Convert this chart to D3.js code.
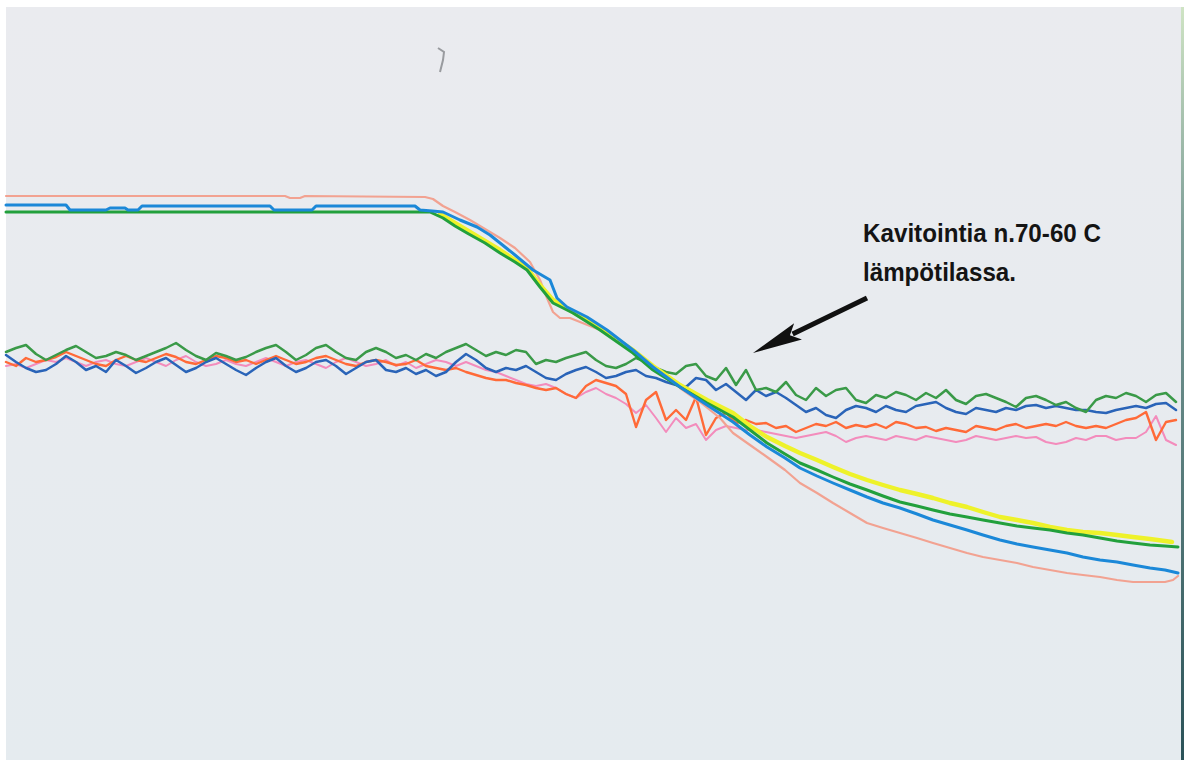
<!DOCTYPE html>
<html>
<head>
<meta charset="utf-8">
<script src="https://cdn.jsdelivr.net/npm/d3@7"></script>
<style>
  html, body { margin: 0; padding: 0; background: #ffffff; }
  svg { display: block; }
</style>
</head>
<body>
<svg id="chart" width="1189" height="760"></svg>
<script>
// ---------- DATA (time units, signal units) ----------
// Temperature curves: [time, value]
const salmonTemp = [[0,564],[279,564],[284,562],[294,562],[299,564],[419,563],[427,561],[437,554],[449,548],[464,540],[474,534],[484,528],[494,522],[509,512],[524,498],[534,480],[541,462],[547,448],[554,442],[564,442],[574,438],[594,430],[614,418],[634,402],[654,388],[674,372],[694,358],[714,342],[727,327],[744,315],[761,303],[779,290],[794,277],[811,267],[827,257],[844,247],[861,237],[877,232],[894,227],[911,222],[927,217],[944,212],[961,207],[977,203],[994,200],[1011,197],[1027,193],[1044,190],[1061,187],[1077,185],[1094,183],[1111,180],[1127,178],[1144,178],[1159,178],[1167,180],[1172,184]];
const blueTemp = [[0,555],[60,555],[64,550],[100,550],[104,552],[119,552],[122,550],[132,550],[136,554],[264,554],[268,550],[306,550],[310,554],[409,554],[414,550],[426,549],[437,548],[454,540],[471,533],[484,525],[494,517],[509,505],[527,490],[544,480],[551,462],[561,453],[581,443],[601,430],[627,410],[647,393],[674,373],[701,355],[727,338],[744,325],[761,313],[779,302],[794,292],[811,284],[827,277],[844,270],[861,263],[877,257],[894,252],[911,246],[927,240],[944,235],[961,230],[977,225],[994,220],[1011,216],[1027,213],[1044,210],[1061,207],[1077,203],[1094,200],[1111,198],[1127,195],[1144,192],[1159,190],[1172,187]];
const greenTemp = [[0,548],[424,548],[437,542],[449,534],[461,527],[479,517],[494,507],[509,498],[521,490],[534,473],[547,457],[567,447],[594,430],[627,407],[647,390],[674,373],[701,357],[727,343],[744,330],[761,317],[779,306],[794,297],[811,290],[827,283],[844,276],[861,270],[877,264],[894,258],[911,254],[927,250],[944,246],[961,243],[977,240],[994,237],[1011,234],[1027,232],[1044,230],[1061,227],[1077,225],[1094,222],[1111,219],[1127,217],[1144,215],[1159,214],[1172,213]];
const yellowTemp = [[434,546],[464,528],[494,510],[521,492],[534,475],[547,460],[567,448],[594,432],[627,410],[647,394],[674,375],[701,360],[727,347],[744,334],[761,323],[779,314],[794,307],[811,300],[827,293],[844,286],[861,280],[877,275],[894,270],[911,266],[927,262],[944,257],[961,253],[977,248],[994,243],[1011,240],[1027,237],[1044,233],[1061,230],[1077,228],[1094,227],[1111,225],[1127,223],[1144,221],[1159,219],[1166,218]];

// Noisy signals, sampled every noiseStep time units from t = 0
const noiseStep = 10;
const greenNoise = [408,412,415,406,400,405,410,414,408,402,
404,408,405,400,404,408,412,417,410,404,
400,407,404,400,403,408,412,415,408,400,
405,412,415,408,402,400,408,412,408,402,
405,400,406,402,408,412,416,410,404,408,
405,410,408,396,400,398,402,405,408,400,
394,392,396,402,398,392,388,386,394,396,
384,380,392,375,390,370,372,368,378,365,
360,372,364,370,372,360,357,365,362,368,
365,360,367,362,370,360,356,364,366,362,
358,353,362,364,360,355,358,352,348,360,
364,362,367,364,358,365,367,358];
const blueNoise = [405,398,392,388,390,396,404,398,390,394,
388,400,394,387,392,398,402,395,388,392,
398,402,396,390,385,392,398,402,394,388,
392,398,400,394,386,392,398,400,390,388,
392,386,390,384,388,398,406,400,392,388,
392,390,394,388,382,380,386,390,393,388,
382,384,388,390,384,382,378,375,373,382,
380,370,376,368,360,370,364,368,362,355,
348,352,345,342,350,354,352,348,354,350,
348,354,356,358,352,348,346,352,350,348,
352,350,354,355,352,354,352,350,350,348,
347,350,352,354,352,356,357,350];
const orangeNoise = [398,394,402,398,400,403,408,404,400,396,
394,400,404,400,398,402,406,403,398,396,
400,404,402,398,400,396,400,404,400,396,
398,402,404,400,396,394,398,400,398,395,
396,400,394,392,390,392,388,385,382,380,
380,377,375,372,370,372,366,362,374,380,
377,374,366,333,360,368,340,350,340,363,
325,342,347,337,340,336,337,332,334,328,
332,336,334,338,332,335,333,336,332,338,
336,332,333,329,332,330,328,334,332,330,
334,336,332,334,336,334,338,334,332,334,
332,336,340,342,348,320,338,340];
const pinkNoise = [394,396,392,396,400,398,402,398,394,398,
400,396,394,398,402,398,394,400,404,398,
394,396,400,396,394,398,402,398,394,398,
400,396,392,398,402,398,394,396,400,394,
398,392,396,400,398,394,398,394,390,388,
384,380,376,374,376,372,366,362,368,372,
366,362,356,347,355,342,328,342,332,336,
320,330,334,332,330,330,328,326,324,322,
324,326,328,324,318,322,324,322,320,324,
322,320,324,322,320,318,320,324,322,320,
322,324,322,323,318,316,318,322,320,324,
324,320,322,322,328,344,320,315];

const noteLines = ["Kavitointia n.70-60 C", "lämpötilassa."];
const noteAnchor = [857, 518];      // [time, value] of first text line baseline start
const noteLineGap = 39;            // value units between lines
const arrowFrom = [861, 462];
const arrowTo = [747, 407];

// ---------- DRAW ----------
const W = 1189, H = 760;
const svg = d3.select("#chart");
const x = d3.scaleLinear().domain([0, 1175]).range([6, 1181]);
const y = d3.scaleLinear().domain([0, 760]).range([760, 0]);

const defs = svg.append("defs");
const bg = defs.append("linearGradient").attr("id", "paper").attr("x1", 0).attr("y1", 0).attr("x2", 0).attr("y2", 1);
bg.append("stop").attr("offset", "0%").attr("stop-color", "#eaebef");
bg.append("stop").attr("offset", "100%").attr("stop-color", "#e5ebef");
const edge = defs.append("linearGradient").attr("id", "edge").attr("x1", 0).attr("y1", 0).attr("x2", 0).attr("y2", 1);
edge.append("stop").attr("offset", "0%").attr("stop-color", "#cfe4c4");
edge.append("stop").attr("offset", "30%").attr("stop-color", "#7d9e98");
edge.append("stop").attr("offset", "100%").attr("stop-color", "#2a5258");

svg.append("rect").attr("x", 0).attr("y", 0).attr("width", W).attr("height", H).attr("fill", "#ffffff");
svg.append("rect").attr("x", x(0)).attr("y", 7).attr("width", x(1175) - x(0)).attr("height", H - 7).attr("fill", "url(#paper)");
svg.append("rect").attr("x", x(1175)).attr("y", 7).attr("width", 3).attr("height", H - 7).attr("fill", "url(#edge)");

// small scan smudge
svg.append("path")
  .attr("d", "M438,48 L444,52 L443,60 L440,72")
  .attr("fill", "none").attr("stroke", "#7e8084").attr("stroke-width", 2).attr("opacity", 0.75);

const linePair = d3.line().x(d => x(d[0])).y(d => y(d[1]));
const lineNoise = d3.line().x((d, i) => x(i * noiseStep)).y(d => y(d));

const g = svg.append("g").attr("fill", "none").attr("stroke-linejoin", "round").attr("stroke-linecap", "round");

const noiseSeries = [
  { data: pinkNoise,   color: "#f38cbc", w: 2.0 },
  { data: orangeNoise, color: "#ff6a38", w: 2.4 },
  { data: blueNoise,   color: "#2a64b8", w: 2.5 },
  { data: greenNoise,  color: "#3a9a48", w: 2.5 }
];
const tempSeries = [
  { data: salmonTemp, color: "#f2a291", w: 2.2 },
  { data: yellowTemp, color: "#eef22a", w: 4.4 },
  { data: greenTemp,  color: "#22a03c", w: 3.0 },
  { data: blueTemp,   color: "#1b88d8", w: 3.0 }
];

g.selectAll("path.noise").data(noiseSeries).join("path")
  .attr("class", "noise")
  .attr("d", d => lineNoise(d.data))
  .attr("stroke", d => d.color).attr("stroke-width", d => d.w);

g.selectAll("path.temp").data(tempSeries).join("path")
  .attr("class", "temp")
  .attr("d", d => linePair(d.data))
  .attr("stroke", d => d.color).attr("stroke-width", d => d.w);

// Arrow annotation
const ax1 = x(arrowFrom[0]), ay1 = y(arrowFrom[1]);
const ax2 = x(arrowTo[0]), ay2 = y(arrowTo[1]);
const ang = Math.atan2(ay2 - ay1, ax2 - ax1);
const headLen = 50, headHalf = 9;
const bx = ax2 - headLen * Math.cos(ang), by = ay2 - headLen * Math.sin(ang);
const nx = -Math.sin(ang), ny = Math.cos(ang);
svg.append("line")
  .attr("x1", ax1).attr("y1", ay1).attr("x2", bx + 6 * Math.cos(ang)).attr("y2", by + 6 * Math.sin(ang))
  .attr("stroke", "#111").attr("stroke-width", 5).attr("stroke-linecap", "butt");
svg.append("path")
  .attr("d", `M${ax2},${ay2} L${bx + headHalf * nx},${by + headHalf * ny} L${bx + 9 * Math.cos(ang)},${by + 9 * Math.sin(ang)} L${bx - headHalf * nx},${by - headHalf * ny} Z`)
  .attr("fill", "#111");

// Text annotation
const tl = [238, 153];
svg.selectAll("text.note").data(noteLines).join("text")
  .attr("class", "note")
  .attr("x", x(noteAnchor[0]))
  .attr("y", (d, i) => y(noteAnchor[1] - i * noteLineGap))
  .attr("font-family", "'Liberation Sans Narrow', 'Arial Narrow', 'Liberation Sans', Arial, sans-serif")
  .attr("font-weight", "bold")
  .attr("font-size", 25)
  .attr("fill", "#141414")
  .attr("textLength", (d, i) => tl[i])
  .attr("lengthAdjust", "spacingAndGlyphs")
  .text(d => d);
</script>
</body>
</html>
